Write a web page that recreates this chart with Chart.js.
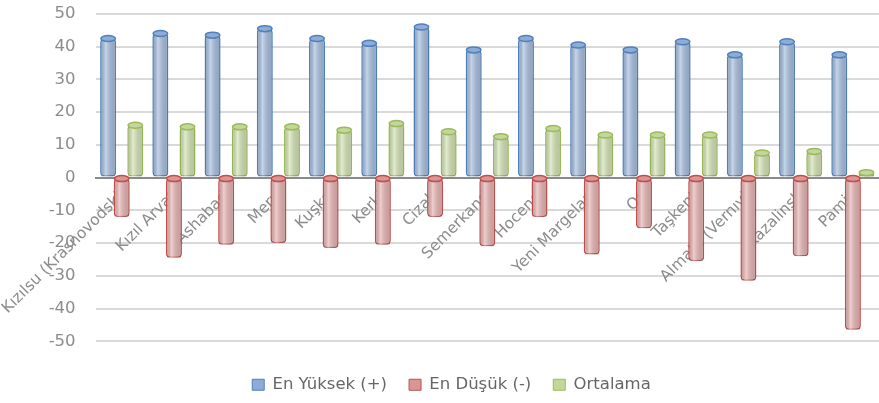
<!DOCTYPE html>
<html lang="tr">
<head>
  <meta charset="UTF-8" />
  <title>En Yüksek / En Düşük / Ortalama</title>
  <script src="https://cdn.jsdelivr.net/npm/chart.js@4.4.1/dist/chart.umd.min.js"></script>
  <style>
    body { margin: 0; background: #fff; }
    .wrap { width: 879px; height: 403px; position: relative; }
  </style>
</head>
<body>
  <div class="wrap"><canvas id="chart"></canvas></div>
<script>
  const stations = ["Kızılsu (Krasnovodsk)", "Kızıl Arvat", "Ashabad", "Merv", "Kuşka", "Kerki", "Cizak",
    "Semerkand", "Hocend", "Yeni Margelan", "Oş", "Taşkent", "Almata (Vernıy)", "Kazalinsk", "Pamir"];
  const highest = [42.5, 44, 43.5, 45.5, 42.5, 41, 46, 39, 42.5, 40.5, 39, 41.5, 37.5, 41.5, 37.5];
  const lowest = [-12, -24.5, -20.5, -20, -21.5, -20.5, -12, -21, -12, -23.5, -15.5, -25.5, -31.5, -24, -46.5];
  const average = [16, 15.5, 15.5, 15.5, 14.5, 16.5, 14, 12.5, 15, 13, 13, 13, 7.5, 8, 1.5];
  const yTicks = [-50, -40, -30, -20, -10, 0, 10, 20, 30, 40, 50];

  const FONT = '"DejaVu Sans", sans-serif';

  // overlay shading + end caps so bars look like the excel cylinders
  const cylinderPlugin = {
    id: 'cylinder',
    afterLayout(chart) {
      // legend in the original sits a little left of centre
      chart.legend.left -= 7;
      chart.legend.right -= 7;
    },
    afterDatasetsDraw(chart) {
      const ctx = chart.ctx;
      ctx.save();
      chart.data.datasets.forEach((ds, i) => {
        const meta = chart.getDatasetMeta(i);
        meta.data.forEach(bar => {
          const p = bar.getProps(['x', 'y', 'base', 'width'], true);
          const left = p.x - p.width / 2;
          const top = Math.min(p.y, p.base);
          const h = Math.abs(p.base - p.y);
          const g = ctx.createLinearGradient(left, 0, left + p.width, 0);
          g.addColorStop(0, 'rgba(0,0,0,0.10)');
          g.addColorStop(0.35, 'rgba(255,255,255,0.35)');
          g.addColorStop(1, 'rgba(0,0,0,0.12)');
          ctx.fillStyle = g;
          ctx.fillRect(left + 1, top, p.width - 2, h);
          ctx.beginPath();
          ctx.ellipse(p.x, top, p.width / 2 - 0.75, 3, 0, 0, Math.PI * 2);
          ctx.fillStyle = ds.capColor;
          ctx.fill();
          ctx.lineWidth = 1.5;
          ctx.strokeStyle = ds.borderColor;
          ctx.stroke();
        });
      });
      ctx.restore();
    }
  };

  new Chart(document.getElementById('chart'), {
    type: 'bar',
    data: {
      labels: stations,
      datasets: [
        { label: 'En Yüksek (+)', data: highest, backgroundColor: '#A7BFE0', borderColor: '#4F81BD', capColor: '#8EACD5' },
        { label: 'En Düşük (-)', data: lowest, backgroundColor: '#E8B4B3', borderColor: '#C0504D', capColor: '#D99694' },
        { label: 'Ortalama', data: average, backgroundColor: '#D4E4B4', borderColor: '#9BBB59', capColor: '#C3D69B' }
      ].map(d => Object.assign(d, {
        borderWidth: 1.5,
        borderRadius: 4,
        borderSkipped: false,
        barPercentage: 1.18,
        categoryPercentage: 0.78
      }))
    },
    options: {
      responsive: true,
      maintainAspectRatio: false,
      animation: false,
      layout: { padding: { left: 38, right: 0, top: 0, bottom: 0 } },
      plugins: {
        tooltip: { enabled: false },
        legend: {
          position: 'bottom',
          title: { display: true, text: ' ', font: { size: 1 }, padding: { top: 0, bottom: 12 } },
          labels: {
            boxWidth: 12,
            boxHeight: 11,
            color: '#1a1a1a',
            padding: 22,
            font: { family: FONT, size: 16.5 },
            generateLabels(chart) {
              return chart.data.datasets.map((d, i) => ({
                text: d.label,
                fillStyle: d.capColor,
                strokeStyle: d.borderColor,
                lineWidth: 1,
                datasetIndex: i
              }));
            }
          }
        }
      },
      scales: {
        x: {
          position: { y: 0 },
          grid: { display: false },
          border: { color: '#8a8a8a', width: 2 },
          ticks: {
            autoSkip: false,
            minRotation: 45,
            maxRotation: 45,
            color: '#8c8c8c',
            padding: 2,
            font: { family: FONT, size: 15.5 }
          }
        },
        y: {
          min: yTicks[0],
          max: yTicks[yTicks.length - 1],
          afterBuildTicks(axis) { axis.ticks = yTicks.map(v => ({ value: v })); },
          border: { display: false },
          grid: {
            color: c => c.tick.value === 0 ? '#8a8a8a' : '#d9d9d9',
            lineWidth: 2,
            drawTicks: true,
            tickLength: 16,
            tickColor: 'rgba(0,0,0,0)'
          },
          ticks: {
            color: '#8c8c8c',
            padding: 4,
            font: { family: FONT, size: 16.5 }
          }
        }
      }
    },
    plugins: [cylinderPlugin]
  });
</script>
</body>
</html>
